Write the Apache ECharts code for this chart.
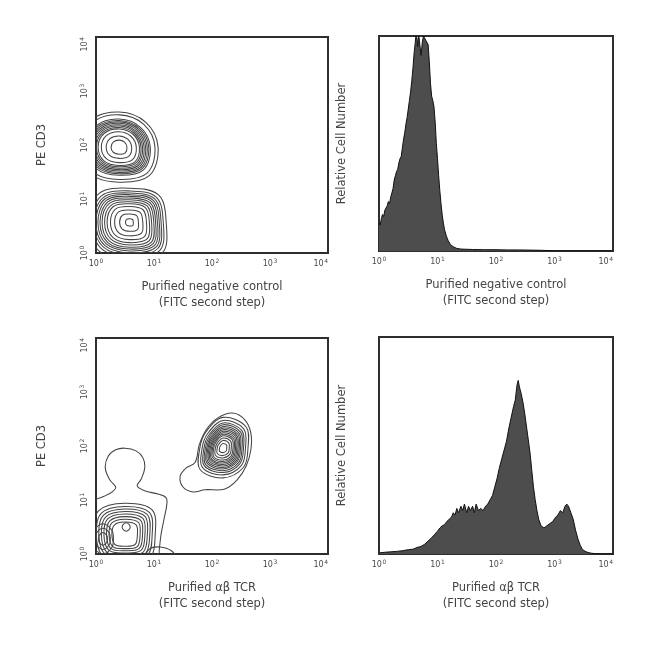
<!DOCTYPE html>
<html><head><meta charset="utf-8">
<script src="https://cdn.jsdelivr.net/npm/echarts@6/dist/echarts.min.js"></script>
<style>html,body{margin:0;padding:0;background:#fff}#c{width:650px;height:650px}</style>
</head><body><div id="c"></div>
<script>
// ---- tick labels / names ----
const tickExp = ['0', '1', '2', '3', '4'];
const xNameTop = 'Purified negative control\n(FITC second step)';
const xNameBottom = 'Purified αβ TCR\n(FITC second step)';
const yNameDot = 'PE CD3';
const yNameHist = 'Relative Cell Number';

// ---- histogram (top right): log10 fluorescence (decades), relative count (%) ----
const hist1Dec = [0.00,0.02,0.04,0.06,0.08,0.10,0.12,0.14,0.16,0.18,0.20,0.22,0.24,0.26,0.28,0.30,0.32,0.34,0.36,0.38,0.40,0.42,0.44,0.46,0.48,0.50,0.52,0.54,0.56,0.58,0.60,0.62,0.63,0.65,0.66,0.68,0.69,0.71,0.72,0.74,0.76,0.78,0.80,0.82,0.84,0.86,0.88,0.90,0.92,0.94,0.96,0.98,1.00,1.02,1.04,1.06,1.08,1.10,1.12,1.15,1.18,1.22,1.27,1.33,1.40,1.60,1.80,2.00,2.20,2.40,2.60,2.80,3.00,3.20,4.00];
const hist1Val = [13,12,15,17,16,19,20,21,23,22,25,27,29,33,35,37,38,41,43,44,48,52,55,59,62,66,70,74,79,85,92,97,100,99,95,100,98,93,91,97,100,99,98,97,96,88,78,72,70,67,60,50,43,35,28,22,17,13,10,7,5,3,2,1.2,0.9,0.7,0.6,0.6,0.5,0.5,0.4,0.3,0.1,0,0];

// ---- histogram (bottom right) ----
const hist2Dec = [0.00,0.10,0.20,0.30,0.40,0.50,0.58,0.65,0.72,0.78,0.84,0.90,0.95,1.00,1.04,1.08,1.12,1.16,1.20,1.24,1.27,1.30,1.33,1.36,1.40,1.43,1.46,1.50,1.53,1.56,1.60,1.63,1.66,1.70,1.74,1.78,1.82,1.86,1.90,1.94,1.98,2.02,2.06,2.10,2.14,2.18,2.22,2.26,2.30,2.33,2.36,2.38,2.40,2.43,2.46,2.49,2.52,2.55,2.58,2.61,2.64,2.67,2.70,2.73,2.77,2.82,2.87,2.92,2.97,3.02,3.06,3.10,3.14,3.18,3.21,3.24,3.28,3.32,3.36,3.40,3.44,3.48,3.54,3.62,3.75,4.00];
const hist2Val = [0.5,0.8,1,1.2,1.5,2,2.2,3,3.5,4.5,6,7.5,9,10.5,12,13,13.5,15,16,17,19,18,21,19,22,20,23,19,22,20,22,19,23,20,21,20,22,23,25,27,31,35,40,44,48,52,58,63,68,71,78,80,77,74,70,65,59,53,47,39,31,25,20,16,13,12,13,14,15,17,18,20,19,22,23,22,19,16,11,7,4,2,1,0.4,0,0];

// ---- contour plots: cluster centres (decades), radii at 0,45,...,315 deg, ring scales ----
// top-left, upper population
const aCenter = [0.40, 1.96];
const aRadii = [0.67, 0.65, 0.65, 0.70, 0.70, 0.70, 0.65, 0.74];
const aScales = [1, 0.92, 0.8, 0.76, 0.72, 0.68, 0.64, 0.6, 0.56, 0.52, 0.44, 0.32, 0.2];
// top-left, lower population
const bCenter = [0.58, 0.57];
const bRadii = [0.63, 0.71, 0.63, 0.75, 0.72, 0.75, 0.7, 0.8];
const bScales = [1, 0.92, 0.86, 0.81, 0.76, 0.71, 0.66, 0.6, 0.54, 0.46, 0.36, 0.24, 0.1];
// bottom-left, TCR+ population
const cCenter = [2.19, 1.96];
const cRadii = [0.43, 0.56, 0.57, 0.42, 0.40, 0.56, 0.55, 0.50];
const cScales = [1, 0.9, 0.82, 0.76, 0.7, 0.65, 0.6, 0.55, 0.5, 0.45, 0.4, 0.33, 0.25, 0.15];
const cOutline = [[2.36,2.61],[2.57,2.48],[2.67,2.24],[2.67,1.93],[2.59,1.63],[2.43,1.37],[2.21,1.20],[1.88,1.19],[1.67,1.15],[1.50,1.24],[1.45,1.44],[1.55,1.59],[1.71,1.70],[1.78,2.02],[1.90,2.30],[2.10,2.52]];
// bottom-left, negative population
const dCenter = [0.50, 0.35];
const dRadii = [0.52, 0.66, 0.59, 0.64, 0.55, 0.60, 0.50, 0.60];
const dScales = [1, 0.9, 0.82, 0.74, 0.66, 0.58, 0.5, 0.41];
const d2Center = [0.52, 0.50];
const d2Radii = [0.07, 0.07, 0.08, 0.07, 0.07, 0.07, 0.08, 0.07];
const d2Scales = [1];
const eCenter = [0.12, 0.28];
const eRadii = [0.18, 0.22, 0.28, 0.22, 0.18, 0.22, 0.28, 0.22];
const eScales = [1, 0.7, 0.42];
const dOutline = [[-0.1,1.02],[0,1.02],[0.14,1.07],[0.28,1.15],[0.34,1.24],[0.24,1.37],[0.16,1.59],[0.21,1.81],[0.34,1.93],[0.5,1.96],[0.69,1.91],[0.81,1.78],[0.84,1.59],[0.78,1.39],[0.71,1.26],[0.84,1.17],[1.07,1.11],[1.21,1.04],[1.22,0.91],[1.17,0.63],[1.12,0.35],[1.09,0.07],[1.07,-0.1],[-0.1,-0.1]];
const dBase = [[0.85,-0.1],[0.92,0.09],[1.1,0.13],[1.3,0.06],[1.38,-0.1]];

function rings(center, radii, scales) {
  return scales.map(s => radii.map((r, k) => {
    const a = k * Math.PI / 4;
    return [center[0] + s * r * Math.cos(a), center[1] + s * r * Math.sin(a)];
  }));
}
const polysTL = [].concat(rings(aCenter, aRadii, aScales), rings(bCenter, bRadii, bScales));
const polysBL = [].concat([cOutline], rings(cCenter, cRadii, cScales), [dOutline, dBase],
  rings(dCenter, dRadii, dScales), rings(d2Center, d2Radii, d2Scales), rings(eCenter, eRadii, eScales));

const chart = echarts.init(document.getElementById('c'), null, {renderer: 'canvas'});
const FONT = 'DejaVu Sans';
const rich = {
  b: {fontSize: 8, fontFamily: FONT, color: '#4a4a4a', verticalAlign: 'bottom', lineHeight: 11},
  s: {fontSize: 6, fontFamily: FONT, color: '#4a4a4a', verticalAlign: 'bottom', lineHeight: 11, padding: [0, 0, 4, 0.5]}
};
const nameStyle = {fontFamily: FONT, fontSize: 11.5, color: '#444', lineHeight: 16};
const fmt = v => '{b|10}{s|' + tickExp[Math.round(v)] + '}';

function xAx(g, name) {
  return {type: 'value', gridIndex: g, min: 0, max: 4, interval: 1,
    axisLine: {show: false}, axisTick: {show: false}, splitLine: {show: false},
    axisLabel: {margin: 4, formatter: fmt, rich: rich, alignMaxLabel: 'right'},
    name: name, nameLocation: 'middle', nameGap: 26, nameTextStyle: nameStyle};
}
function yDot(g) {
  return {type: 'value', gridIndex: g, min: 0, max: 4, interval: 1,
    axisLine: {show: false}, axisTick: {show: false}, splitLine: {show: false},
    axisLabel: {margin: 7, rotate: 90, formatter: fmt, rich: rich, alignMaxLabel: 'right'},
    name: yNameDot, nameLocation: 'middle', nameGap: 46, nameTextStyle: nameStyle};
}
function yHist(g) {
  return {type: 'value', gridIndex: g, min: 0, max: 100,
    axisLine: {show: false}, axisTick: {show: false}, splitLine: {show: false},
    axisLabel: {show: false},
    name: yNameHist, nameLocation: 'middle', nameGap: 29, nameTextStyle: nameStyle};
}
function contour(g, polys) {
  return {type: 'custom', xAxisIndex: g, yAxisIndex: g, clip: true, silent: true, z: 3,
    data: polys.map((p, i) => [p[0][0], p[0][1], i]),
    encode: {x: 0, y: 1},
    renderItem: (params, api) => {
      const poly = polys[api.value(2)];
      const pts = poly.map(p => api.coord(p));
      const cs = params.coordSys;
      return {type: 'polygon', shape: {points: pts, smooth: 0.36},
        style: {fill: 'none', stroke: '#444', lineWidth: 1.05},
        clipPath: {type: 'rect', shape: {x: cs.x, y: cs.y, width: cs.width, height: cs.height}}};
    }};
}
function hist(g, xs, ys) {
  return {type: 'line', xAxisIndex: g, yAxisIndex: g, data: xs.map((x, i) => [x, ys[i]]),
    showSymbol: false, symbol: 'none', silent: true, clip: true,
    lineStyle: {color: '#111', width: 1}, areaStyle: {color: '#4d4d4d', opacity: 1}};
}
const gridBase = {show: true, borderColor: '#2e2e2e', borderWidth: 2, backgroundColor: 'transparent'};
chart.setOption({
  animation: false,
  backgroundColor: '#fff',
  grid: [
    Object.assign({left: 96, top: 37, width: 232, height: 216}, gridBase),
    Object.assign({left: 379, top: 36, width: 234, height: 215}, gridBase),
    Object.assign({left: 96, top: 338, width: 232, height: 216}, gridBase),
    Object.assign({left: 379, top: 337, width: 234, height: 217}, gridBase)
  ],
  xAxis: [xAx(0, xNameTop), xAx(1, xNameTop), xAx(2, xNameBottom), xAx(3, xNameBottom)],
  yAxis: [yDot(0), yHist(1), yDot(2), yHist(3)],
  series: [contour(0, polysTL), hist(1, hist1Dec, hist1Val), contour(2, polysBL), hist(3, hist2Dec, hist2Val)]
});
</script></body></html>
